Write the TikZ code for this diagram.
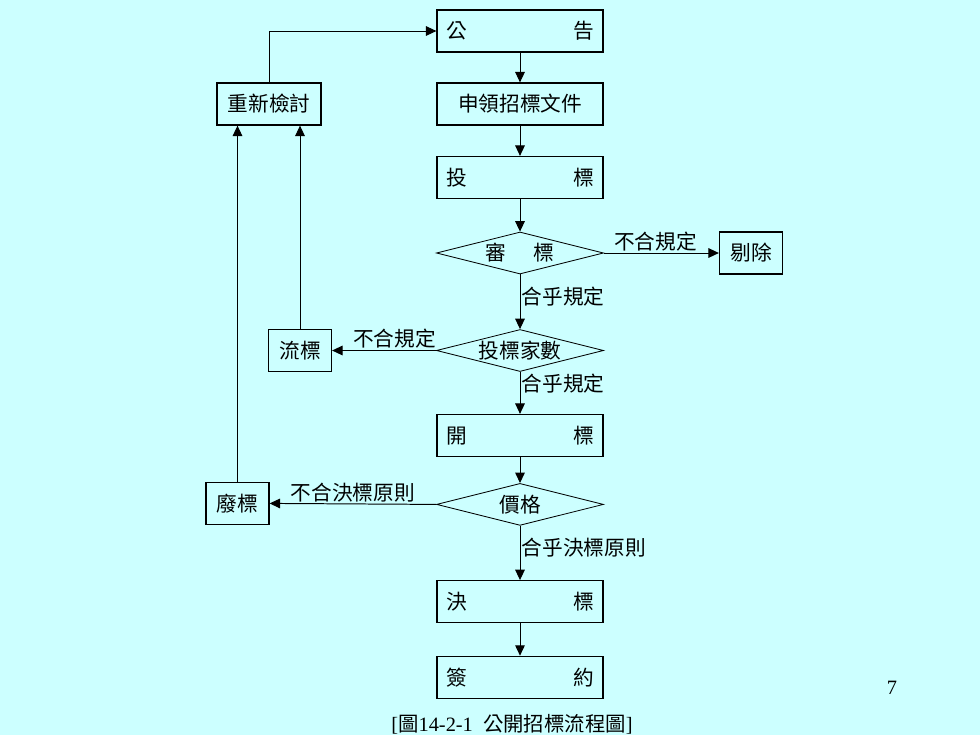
\documentclass[tikz,border=0pt]{standalone}
\usepackage{fontspec}
\setmainfont{Liberation Serif}
\newfontfamily\cjk{Noto Sans CJK TC}
\usepackage{xcolor}
\definecolor{PageCyan}{HTML}{CCFFFF}
\usetikzlibrary{shapes.geometric, arrows.meta}
\tikzset{
  % Box styles
  stepbox/.style={rectangle, draw=black, line width=0.9pt, minimum width=41.5mm, minimum height=10.5mm, inner xsep=2.3mm, text width=36.9mm, align=center, font=\cjk\fontsize{14.7}{16}\selectfont},
  sidebox/.style={rectangle, draw=black, line width=0.9pt, minimum height=10.5mm, inner sep=1mm, font=\cjk\fontsize{14.7}{16}\selectfont},
  checknode/.style={diamond, draw=black, line width=0.6pt, aspect=4, inner sep=0pt, minimum width=41.75mm, minimum height=10.5mm, font=\cjk\fontsize{14.7}{16}\selectfont},
  % Arrow styles
  arrow/.style={-{Triangle[length=2.6mm, width=2.4mm]}, line width=0.7pt, black},
  % Label styles
  edgelabel/.style={inner sep=1pt, font=\cjk\fontsize{14.7}{16}\selectfont}
}
\begin{document}
\begin{tikzpicture}[x=0.25mm, y=-0.25mm]
  % Page
  \fill[PageCyan] (0,0) rectangle (980,735);
  \useasboundingbox (0,0) rectangle (980,735);

  % Main flow
  \node[stepbox] (notice) at (520,31) {公\hfill 告};
  \node[stepbox] (fetch) at (520,104) {申領招標文件};
  \node[stepbox] (bid) at (520,177.5) {投\hfill 標};
  \node[checknode] (review) at (520,253) {審\hspace{1.3em}標};
  \node[checknode] (count) at (520,350.5) {\raisebox{-3pt}{投標家數}};
  \node[stepbox] (open) at (520,435.5) {開\hfill 標};
  \node[checknode] (price) at (520,504.4) {\raisebox{-2pt}{價格}};
  \node[stepbox] (award) at (520,601.7) {決\hfill 標};
  \node[stepbox] (sign) at (520,677.3) {簽\hfill 約};

  % Side boxes
  \node[sidebox, minimum width=15.75mm] (reject) at (751,253) {剔除};
  \node[sidebox, minimum width=15.75mm] (fail) at (300,350.5) {流標};
  \node[sidebox, minimum width=15.75mm] (void) at (237.5,503.4) {廢標};
  \node[sidebox, minimum width=26mm] (recheck) at (269,104) {重新檢討};

  % Connectors
  \draw[arrow] (notice) -- (fetch);
  \draw[arrow] (fetch) -- (bid);
  \draw[arrow] (bid) -- (review);
  \draw[arrow] (review) -- node[edgelabel, right, pos=0.4] {合乎規定} (count);
  \draw[arrow] (count) -- node[edgelabel, right, pos=0.27] {合乎規定} (open);
  \draw[arrow] (open) -- (price);
  \draw[arrow] (price) -- node[edgelabel, right, pos=0.41] {合乎決標原則} (award);
  \draw[arrow] (award) -- (sign);

  \draw[arrow] (review.east) -- node[edgelabel, above, pos=0.45] {不合規定} (reject.west);
  \draw[arrow] (count.west) -- node[edgelabel, above, pos=0.4] {不合規定} (fail.east);
  \draw[arrow] (price.west) -- node[edgelabel, above, pos=0.5] {不合決標原則} (void.east);

  \draw[arrow] (fail.north) -- (fail.north |- recheck.south);
  \draw[arrow] (void.north) -- (void.north |- recheck.south);
  \draw[arrow] (recheck.north) |- (notice.west);

  % Caption and page number
  \node[font=\fontsize{14.5}{16}\selectfont] (caption) at (512,724) {[{\cjk 圖}14-2-1\ \ {\cjk 公開招標流程圖}]};
  \node[font=\fontsize{14.5}{16}\selectfont] (pageno) at (892,688) {7};
\end{tikzpicture}
\end{document}
